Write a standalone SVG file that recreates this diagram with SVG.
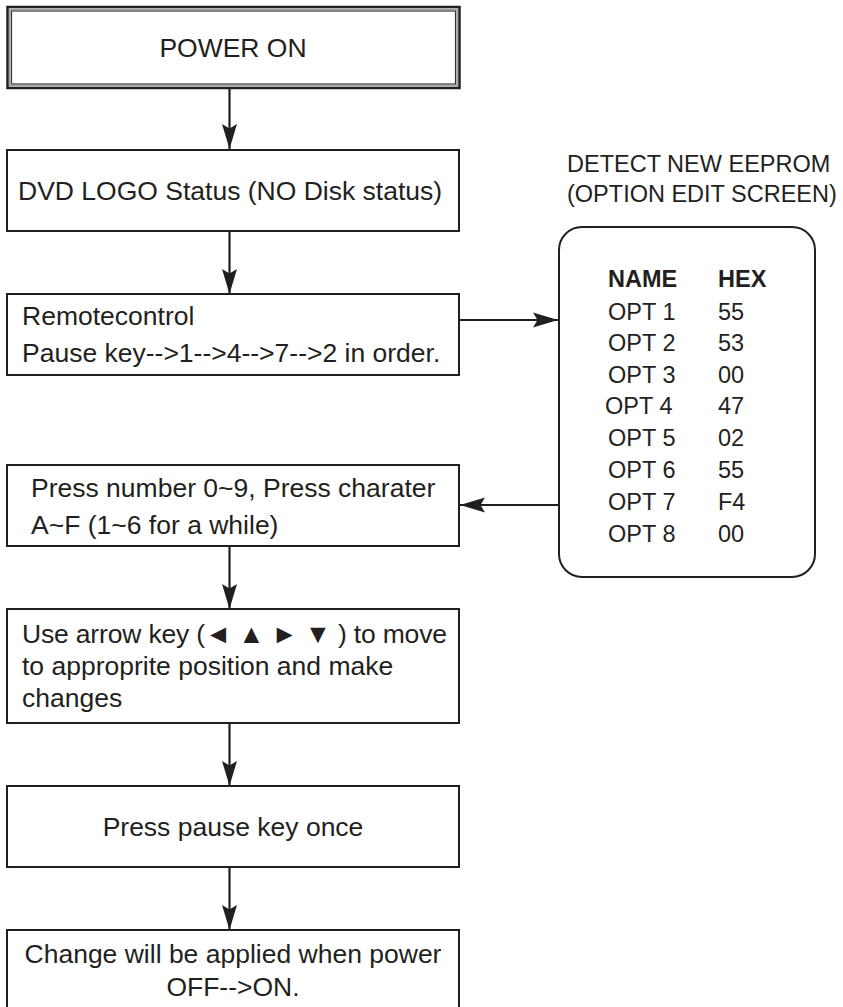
<svg xmlns="http://www.w3.org/2000/svg" width="843" height="1007" viewBox="0 0 843 1007">
<style>
.box{fill:#fff;stroke:#231f20;stroke-width:2}
.t{font-family:"Liberation Sans",Arial,sans-serif;font-size:26.5px;fill:#231f20}
.c{text-anchor:middle}
.h{font-family:"Liberation Sans",Arial,sans-serif;font-size:23.5px;fill:#231f20}
.tb{font-family:"Liberation Sans",Arial,sans-serif;font-size:23.5px;fill:#231f20}
.b{font-weight:bold}
.ln{stroke:#231f20;stroke-width:2.2;fill:none}
</style>
<defs>
<marker id="ah" viewBox="0 0 25 18" refX="25" refY="9" markerWidth="25" markerHeight="18" markerUnits="userSpaceOnUse" orient="auto">
<path d="M0,1.5 L25,9 L0,16.5 L4.5,9 Z" fill="#231f20"/>
</marker>
</defs>
<g id="connectors">
<line class="ln" x1="229.5" y1="88" x2="229.5" y2="149" marker-end="url(#ah)"/>
<line class="ln" x1="229.5" y1="231" x2="229.5" y2="294" marker-end="url(#ah)"/>
<line class="ln" x1="459" y1="320" x2="558" y2="320" marker-end="url(#ah)"/>
<line class="ln" x1="558" y1="505" x2="460" y2="505" marker-end="url(#ah)"/>
<line class="ln" x1="229.5" y1="546" x2="229.5" y2="609" marker-end="url(#ah)"/>
<line class="ln" x1="229.5" y1="723" x2="229.5" y2="786" marker-end="url(#ah)"/>
<line class="ln" x1="229.5" y1="867" x2="229.5" y2="930" marker-end="url(#ah)"/>
</g>
<g id="power-on">
<rect x="7.5" y="7" width="452" height="81" fill="#fff" stroke="#231f20" stroke-width="2.5"/>
<rect x="9.8" y="9.3" width="447.4" height="76.4" fill="none" stroke="#a0a0a0" stroke-width="1.6"/>
<rect x="11.5" y="11" width="444" height="73" fill="none" stroke="#333" stroke-width="1.2"/>
<text class="t c" x="233" y="57">POWER ON</text>
</g>
<g id="dvd-logo">
<rect class="box" x="7" y="150" width="452" height="81"/>
<text class="t" x="18" y="200">DVD LOGO Status (NO Disk status)</text>
</g>
<g id="remote">
<rect class="box" x="7" y="294" width="452" height="81"/>
<text class="t" x="22" y="325">Remotecontrol</text>
<text class="t" x="22" y="362">Pause key--&gt;1--&gt;4--&gt;7--&gt;2 in order.</text>
</g>
<g id="eeprom">
<text class="h" x="567" y="172">DETECT NEW EEPROM</text>
<text class="h" x="567" y="202">(OPTION EDIT SCREEN)</text>
<rect x="559" y="227" width="256" height="350" rx="23" ry="23" fill="#fff" stroke="#231f20" stroke-width="2"/>
<text class="tb b" x="608" y="287">NAME</text>
<text class="tb b" x="718" y="287">HEX</text>
<text class="tb" x="608" y="320">OPT 1</text><text class="tb" x="718" y="320">55</text>
<text class="tb" x="608" y="351">OPT 2</text><text class="tb" x="718" y="351">53</text>
<text class="tb" x="608" y="383">OPT 3</text><text class="tb" x="718" y="383">00</text>
<text class="tb" x="605" y="414">OPT 4</text><text class="tb" x="718" y="414">47</text>
<text class="tb" x="608" y="446">OPT 5</text><text class="tb" x="718" y="446">02</text>
<text class="tb" x="608" y="478">OPT 6</text><text class="tb" x="718" y="478">55</text>
<text class="tb" x="608" y="510">OPT 7</text><text class="tb" x="718" y="510">F4</text>
<text class="tb" x="608" y="542">OPT 8</text><text class="tb" x="718" y="542">00</text>
</g>
<g id="press-number">
<rect class="box" x="7" y="465" width="452" height="81"/>
<text class="t" x="31" y="497">Press number 0~9, Press charater</text>
<text class="t" x="31" y="534">A~F (1~6 for a while)</text>
</g>
<g id="arrow-key">
<rect class="box" x="7" y="609" width="452" height="114"/>
<text class="t" x="22" y="643" textLength="425" lengthAdjust="spacing">Use arrow key (◄ ▲ ► ▼ ) to move</text>
<text class="t" x="22" y="675">to approprite position and make</text>
<text class="t" x="22" y="707">changes</text>
</g>
<g id="press-pause">
<rect class="box" x="7" y="786" width="452" height="81"/>
<text class="t c" x="233" y="836">Press pause key once</text>
</g>
<g id="apply">
<rect class="box" x="7" y="930" width="452" height="90"/>
<text class="t c" x="233" y="963">Change will be applied when power</text>
<text class="t c" x="233" y="996">OFF--&gt;ON.</text>
</g>
</svg>
